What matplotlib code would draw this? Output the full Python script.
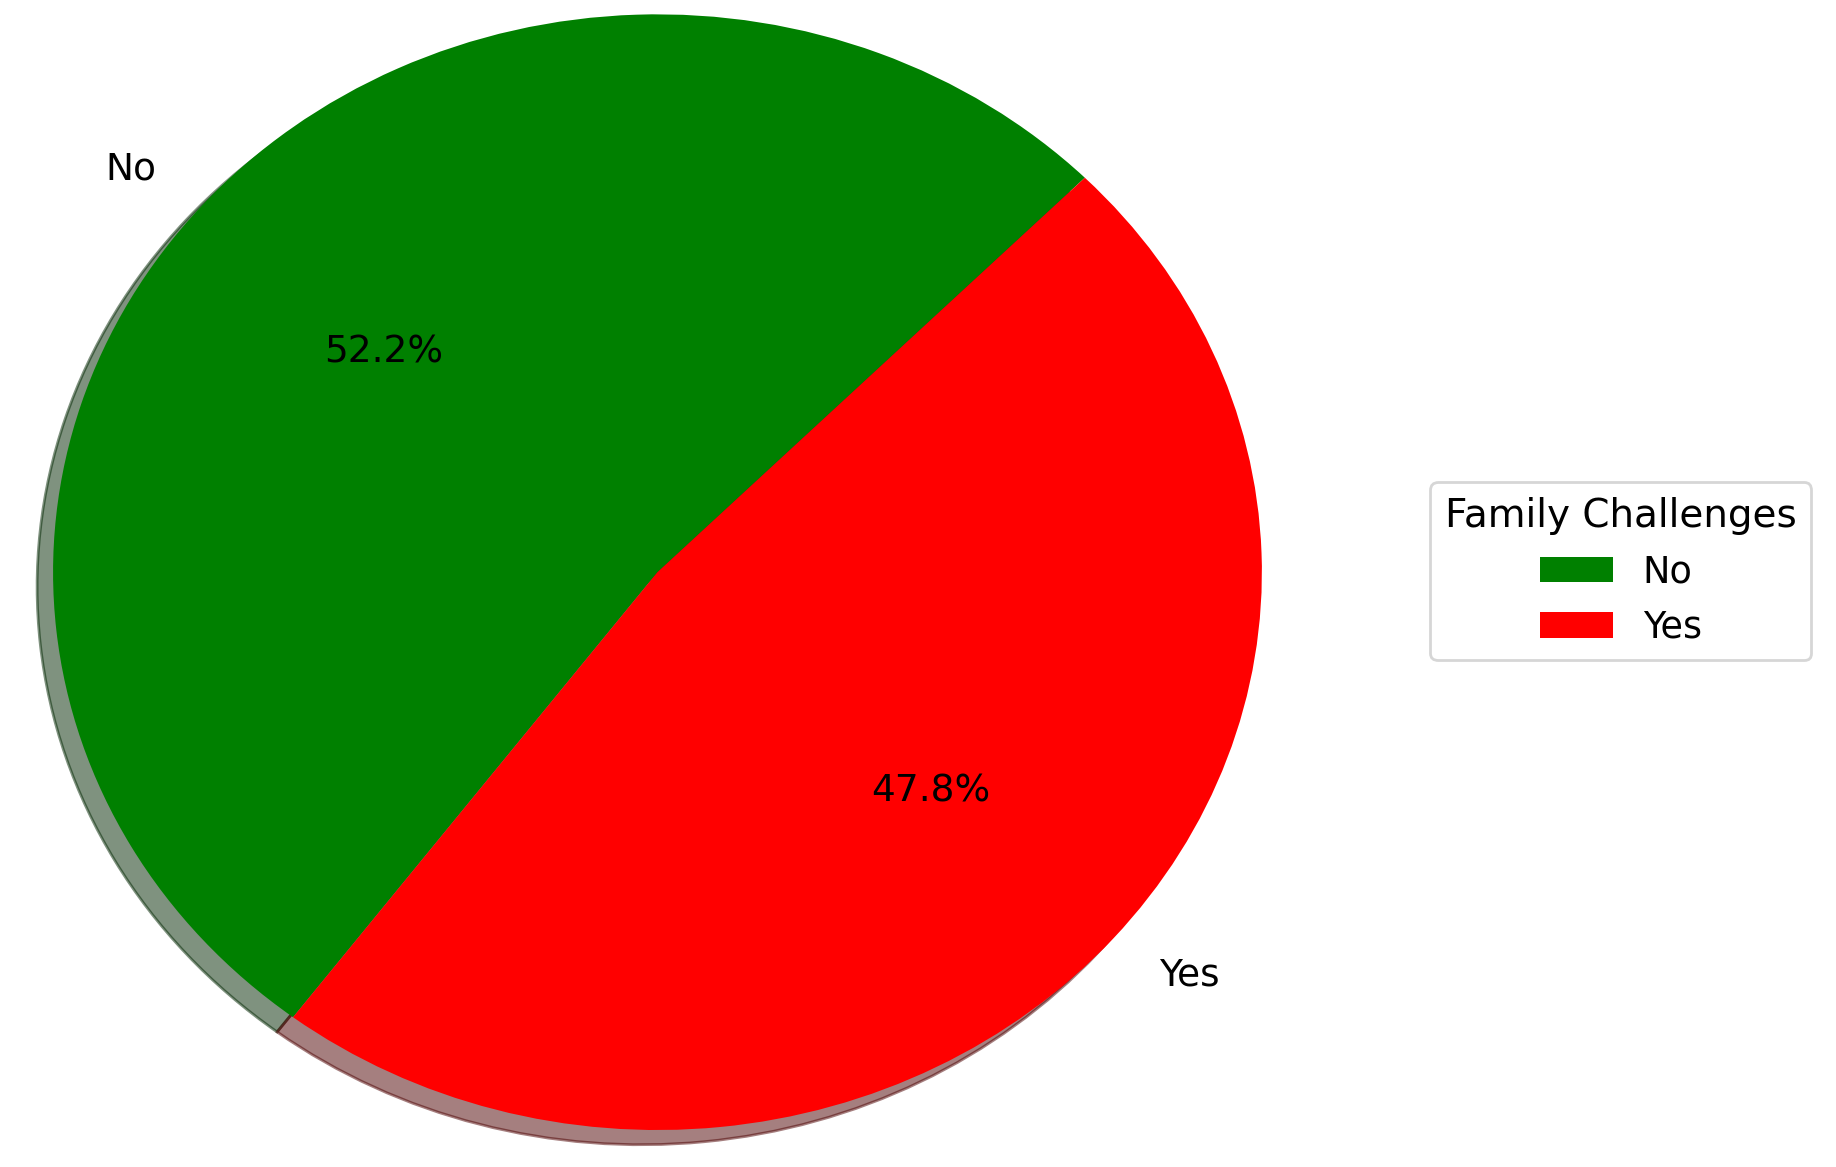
import matplotlib
matplotlib.use("Agg")
import matplotlib.pyplot as plt

labels = ["No", "Yes"]
values = [52.2, 47.8]
colors = ["green", "red"]
legend_title = "Family Challenges"

plt.rcParams['font.size'] = 13.3

fig = plt.figure(figsize=(9.18, 5.835), dpi=200)
ax = fig.add_axes([-0.0534, -0.0878, 0.823, 1.195])
wedges, texts, autotexts = ax.pie(values, labels=labels, colors=colors,
                                  autopct='%1.1f%%', startangle=45,
                                  textprops={'fontsize': 13.5},
                                  shadow={'ox': -0.0095, 'oy': -0.0095, 'shade': 0.7})
ax.set_aspect('auto')
ax.set_xlim(-1.25, 1.25)
ax.set_ylim(-1.25, 1.25)
fig.legend(wedges, labels, title=legend_title, loc='center left',
           title_fontsize=14, fontsize=13.2,
           bbox_to_anchor=(0.769, 0.5103), bbox_transform=fig.transFigure)
fig.savefig("out.png", dpi=200)
